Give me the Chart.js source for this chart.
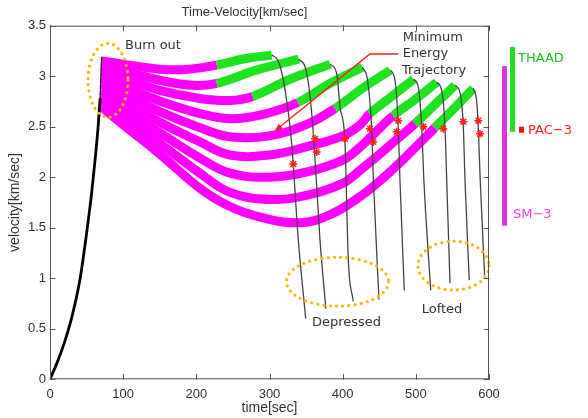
<!DOCTYPE html>
<html><head><meta charset="utf-8">
<script src="https://cdn.jsdelivr.net/npm/chart.js@4.4.1/dist/chart.umd.min.js"></script>
<style>html,body{margin:0;padding:0;background:#fff}#wrap{width:588px;height:418px}</style>
</head><body><div id="wrap"><canvas id="c" width="588" height="418"></canvas></div>
<script>
// ---- data (time [sec], velocity [km/sec]) ----
const xTickValues = [0,100,200,300,400,500,600];
const yTickValues = [0,0.5,1,1.5,2,2.5,3,3.5];

const boosterPhase = [[0,0],[10,0.17],[20,0.37],[30,0.62],[41,0.99],[51,1.5],[57,1.85],[62,2.2],[66,2.52],[68.5,2.78]];
const boosterTop = [[68.5,2.78],[70.5,3.19]];

// SM-3 engageable (magenta) part of each trajectory
const smSegments = [
  [[70,3.15],[100,3.12],[150,3.07],[190,3.07],[228,3.11]],
  [[70,3.10],[100,3.05],[150,2.96],[195,2.91],[228,2.93]],
  [[70,3.04],[100,2.98],[150,2.86],[205,2.78],[246,2.76],[277,2.80]],
  [[70,2.98],[100,2.90],[150,2.755],[205,2.63],[246,2.58],[290,2.62],[339,2.74]],
  [[70,2.92],[100,2.83],[150,2.65],[205,2.49],[246,2.40],[300,2.41],[350,2.52],[389.5,2.68]],
  [[70,2.86],[100,2.75],[150,2.545],[205,2.35],[246,2.22],[300,2.22],[350,2.30],[400,2.41],[424,2.52],[437,2.63]],
  [[70,2.81],[100,2.67],[150,2.44],[205,2.19],[246,2.04],[300,2.00],[350,2.05],[400,2.17],[424,2.30],[440,2.41],[469,2.61]],
  [[70,2.76],[100,2.60],[150,2.335],[205,2.04],[246,1.85],[300,1.78],[350,1.82],[400,1.94],[424,2.07],[441,2.17],[470,2.35],[499,2.53]],
  [[70,2.70],[100,2.52],[150,2.23],[205,1.89],[246,1.71],[290,1.60],[342,1.55],[383,1.63],[424,1.81],[455,1.99],[482,2.17],[526,2.49]]
];
// THAAD engageable (green) part, continuing each trajectory
const thaadSegments = [
  [[228,3.11],[264,3.17],[303,3.21]],
  [[228,2.93],[282,3.06],[340,3.17]],
  [[277,2.80],[328,2.97],[383,3.12]],
  [[339,2.74],[383,2.93],[427,3.09]],
  [[389.5,2.68],[427,2.88],[465,3.06]],
  [[437,2.63],[467,2.80],[497,2.97]],
  [[469,2.61],[499,2.77],[528.5,2.94]],
  [[499,2.53],[526,2.72],[553.5,2.91]],
  [[526,2.49],[552,2.68],[578.5,2.88]]
];
// terminal (re-entry) part
const reentrySegments = [
  [[303,3.21],[312,3.15],[321,2.88],[330,2.36],[339.5,1.37],[349.5,0.60]],
  [[340,3.17],[350,3.06],[357,2.69],[362,2.20],[369,1.38],[377,0.70]],
  [[383,3.12],[392,3.02],[396.5,2.69],[403,2.37],[407.7,1.18],[414.5,0.77]],
  [[427,3.09],[434,2.96],[439.5,2.50],[442,1.97],[449.6,0.79]],
  [[465,3.06],[471.5,2.96],[476,2.50],[478.3,1.97],[484.2,0.88]],
  [[497,2.97],[503.4,2.89],[508,2.50],[511,1.97],[520.3,0.88]],
  [[528.5,2.94],[535.3,2.86],[539.8,2.50],[542.2,1.97],[546.7,0.95]],
  [[553.5,2.91],[560.3,2.84],[564.9,2.50],[567.2,1.97],[573,0.98]],
  [[578.5,2.88],[583,2.76],[585.3,2.50],[588,1.97],[594,1.03]]
];
const pac3Points = [[332.5,2.13],[362.2,2.38],[364.5,2.25],[403.2,2.38],[437.3,2.48],[441.9,2.35],[476,2.56],[473.8,2.45],[510.2,2.50],[537.5,2.48],[564.9,2.55],[585.4,2.56],[587.7,2.43]];
const arrowPath = [[476,3.22],[437.3,3.22],[307.5,2.46]];

// annotation ellipses: [centre t, centre v, radius t, radius v]
const regionBurnout = [79.3,2.96,27.3,0.366];
const regionDepressed = [392.9,0.966,69.7,0.242];
const regionLofted = [551.5,1.125,48.5,0.242];

// interceptor velocity coverage [low, high]
const thaadRange = [2.45,3.29];
const sm3Range = [1.52,3.10];
const pac3Range = [2.44,2.50];

const MAGENTA = '#ff00ff', GREEN = '#1ee31e';
const pts = a => a.map(([x,y]) => ({x,y}));
const datasets = [];
datasets.push({data:pts(boosterPhase),showLine:true,borderColor:'#000',borderWidth:2.8,pointRadius:0,cubicInterpolationMode:'monotone',order:2});
datasets.push({data:pts(boosterTop),showLine:true,borderColor:'#222',borderWidth:1.3,pointRadius:0,tension:0,order:2});
smSegments.forEach((s,i)=>{
  const n = s.length;
  datasets.push({data:pts(s.concat(thaadSegments[i].slice(1))),showLine:true,borderColor:MAGENTA,borderWidth:9,pointRadius:0,tension:0.4,borderCapStyle:'butt',
    segment:{borderColor:c=>c.p0DataIndex>=n-1?GREEN:MAGENTA},order:6-i*0.01});
});
reentrySegments.forEach(s=>datasets.push({data:pts(s),showLine:true,borderColor:'#444',borderWidth:1.3,pointRadius:0,cubicInterpolationMode:'monotone',order:3}));
datasets.push({data:pts(pac3Points),showLine:false,pointStyle:'star',pointRadius:4,borderColor:'#ff2020',backgroundColor:'#ff2020',pointBorderWidth:1.5,order:1});
datasets.push({data:pts(arrowPath),showLine:true,borderColor:'#ff1a1a',borderWidth:1.3,pointRadius:0,tension:0,order:1});

const FONT = 'DejaVu Sans';
const decor = {
  id:'decor',
  afterDatasetsDraw(chart){
    const {ctx, chartArea:a, scales:{x,y}} = chart;
    ctx.save();
    // arrow head
    const n = arrowPath.length;
    const p1 = [x.getPixelForValue(arrowPath[n-2][0]), y.getPixelForValue(arrowPath[n-2][1])];
    const p2 = [x.getPixelForValue(arrowPath[n-1][0]), y.getPixelForValue(arrowPath[n-1][1])];
    const ang = Math.atan2(p2[1]-p1[1], p2[0]-p1[0]);
    ctx.fillStyle='#ff1a1a';
    ctx.beginPath();
    ctx.moveTo(p2[0],p2[1]);
    ctx.lineTo(p2[0]-8*Math.cos(ang-0.4), p2[1]-8*Math.sin(ang-0.4));
    ctx.lineTo(p2[0]-8*Math.cos(ang+0.4), p2[1]-8*Math.sin(ang+0.4));
    ctx.closePath(); ctx.fill();
    // dotted ellipses
    ctx.strokeStyle='#ffb400'; ctx.lineWidth=3.2; ctx.lineCap='round'; ctx.setLineDash([0,6.2]);
    [regionBurnout,regionDepressed,regionLofted].forEach(([cx,cy,rx,ry])=>{
      const px=x.getPixelForValue(cx), py=y.getPixelForValue(cy);
      const rpx=Math.abs(x.getPixelForValue(cx+rx)-px), rpy=Math.abs(y.getPixelForValue(cy+ry)-py);
      ctx.beginPath(); ctx.ellipse(px,py,rpx,rpy,0,0,Math.PI*2); ctx.stroke();
    });
    ctx.setLineDash([]);
    // annotations
    ctx.fillStyle='#333'; ctx.font='13px "'+FONT+'"'; ctx.textBaseline='middle'; ctx.textAlign='left';
    const T=(s,t,v)=>ctx.fillText(s,x.getPixelForValue(t),y.getPixelForValue(v));
    T('Burn out',102.5,3.30);
    T('Minimum',482,3.385);
    T('Energy',482,3.22);
    T('Trajectory',481,3.055);
    T('Depressed',358,0.56);
    T('Lofted',508,0.69);
    // frame and inward ticks
    ctx.strokeStyle='#555'; ctx.lineWidth=1;
    ctx.strokeRect(a.left+0.5,a.top+0.5,a.right-a.left-1,a.bottom-a.top-1);
    ctx.beginPath();
    xTickValues.forEach(v=>{const px=Math.round(x.getPixelForValue(v))+0.5; ctx.moveTo(px,a.bottom); ctx.lineTo(px,a.bottom-5); ctx.moveTo(px,a.top); ctx.lineTo(px,a.top+5);});
    yTickValues.forEach(v=>{const py=Math.round(y.getPixelForValue(v))+0.5; ctx.moveTo(a.left,py); ctx.lineTo(a.left+5,py); ctx.moveTo(a.right,py); ctx.lineTo(a.right-5,py);});
    ctx.stroke();
    // interceptor coverage bars
    const bar=(x0,w,r,col)=>{const t=y.getPixelForValue(r[1]), b=y.getPixelForValue(r[0]); ctx.fillStyle=col; ctx.fillRect(x0,t,w,b-t);};
    bar(a.right+13,5,sm3Range,'#dd33dd');
    bar(a.right+21,5,thaadRange,'#22dd22');
    bar(a.right+30,5,pac3Range,'#ff1010');
    ctx.font='13px "'+FONT+'"';
    ctx.fillStyle='#22bb22'; ctx.fillText('THAAD',a.right+29,y.getPixelForValue(thaadRange[1])+12);
    ctx.fillStyle='#ff2020'; ctx.fillText('PAC\u22123',a.right+39,y.getPixelForValue((pac3Range[0]+pac3Range[1])/2)+1);
    ctx.fillStyle='#ee44ee'; ctx.fillText('SM\u22123',a.right+24,y.getPixelForValue(sm3Range[0])-11);
    ctx.restore();
  }
};

new Chart(document.getElementById('c'),{
  type:'scatter',
  data:{datasets},
  options:{
    responsive:false, animation:false, devicePixelRatio:1,
    layout:{padding:{left:0,right:99,top:0,bottom:0}},
    plugins:{
      legend:{display:false}, tooltip:{enabled:false},
      title:{display:true,text:'Time-Velocity[km/sec]',color:'#333',font:{family:'Liberation Sans',size:13,weight:'normal'},padding:{top:5,bottom:5.1}}
    },
    scales:{
      x:{type:'linear',min:0,max:600,
        afterBuildTicks:s=>{s.ticks=xTickValues.map(v=>({value:v}));},
        afterFit:s=>{s.height=38.7;},
        grid:{display:false,drawTicks:false},border:{display:false},
        ticks:{color:'#333',padding:7,font:{family:'Liberation Sans',size:13},callback:v=>String(v)},
        title:{display:true,text:'time[sec]',color:'#333',padding:{top:0,bottom:1},font:{family:'Liberation Sans',size:14}}},
      y:{type:'linear',min:0,max:3.5,
        afterBuildTicks:s=>{s.ticks=yTickValues.map(v=>({value:v}));},
        afterFit:s=>{s.width=50;},
        grid:{display:false,drawTicks:false},border:{display:false},
        ticks:{color:'#333',padding:4,font:{family:'Liberation Sans',size:13},callback:v=>String(v)},
        title:{display:true,text:'velocity[km/sec]',color:'#333',padding:{top:6.6,bottom:0},font:{family:'Liberation Sans',size:14}}}
    }
  },
  plugins:[decor]
});
</script></body></html>
